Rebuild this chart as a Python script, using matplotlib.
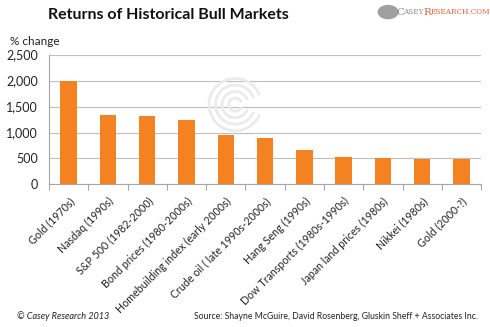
import matplotlib as mpl
mpl.use('Agg')
import matplotlib.pyplot as plt
import numpy as np
from matplotlib.patches import Arc

categories = ['Gold (1970s)', 'Nasdaq (1990s)', 'S&P 500 (1982-2000)', 'Bond prices (1980-2000s)',
              'Homebuilding index (early 2000s)', 'Crude oil ( late 1990s-2000s)', 'Hang Seng (1990s)',
              'Dow Transports (1980s-1990s)', 'Japan land prices (1980s)', 'Nikkei (1980s)', 'Gold (2000-?)']
values = [2000, 1330, 1310, 1240, 960, 885, 656, 534, 515, 485, 485]
yticks = [0, 500, 1000, 1500, 2000, 2500]
ytick_labels = ['0', '500', '1,000', '1,500', '2,000', '2,500']

plt.rcParams['font.family'] = ['Lato', 'DejaVu Sans']

fig = plt.figure(figsize=(4.9, 3.27), dpi=100)
ax = fig.add_axes([0.1, 0.436, 0.882, 0.397])

x = np.arange(len(categories))
ax.bar(x, values, width=0.42, color='#F58220', zorder=3)

ax.set_xlim(-0.5, len(categories) - 0.5)
ax.set_ylim(0, 2500)
ax.set_yticks(yticks)
ax.set_yticklabels(ytick_labels, fontsize=9, color='#222222')
ax.yaxis.grid(True, color='#BFBFBF', linewidth=0.8, zorder=0)
ax.tick_params(axis='y', length=0, pad=8)

ax.set_xticks(x)
ax.set_xticklabels(categories, rotation=45, ha='right', va='top', rotation_mode='anchor',
                   fontsize=7.7, color='#222222')
ax.tick_params(axis='x', length=0, pad=8)
ax.set_xticks(np.arange(len(categories) + 1) - 0.5, minor=True)
ax.tick_params(axis='x', which='minor', length=4, color='#A6A6A6', width=0.8)

for s in ['top', 'right']:
    ax.spines[s].set_visible(False)
ax.spines['left'].set_color('#A6A6A6')
ax.spines['bottom'].set_color('#A6A6A6')

# faint swirl watermark
for r in [0.02, 0.04, 0.06, 0.08]:
    fig.add_artist(Arc((0.48, 0.68), r * 2 * 327 / 490, r * 2, angle=0, theta1=30, theta2=330,
                       transform=fig.transFigure, color='#EBEBEB', linewidth=2.0, zorder=1))

fig.text(0.098, 0.953, 'Returns of Historical Bull Markets', fontsize=11.5, fontweight='bold',
         ha='left', va='center', color='#111111')
fig.text(0.02, 0.873, '% change', fontsize=8.5, ha='left', va='center', color='#222222')

# logo
fig.add_artist(plt.Circle((0.792, 0.963), 0.02, transform=fig.transFigure, color='#A0A0A0'))
fig.text(0.808, 0.963, 'C', fontsize=7.5, family='DejaVu Serif', color='#8A8A8A', ha='left', va='center')
fig.text(0.822, 0.963, 'ASEY', fontsize=5.2, family='DejaVu Serif', color='#8A8A8A', ha='left', va='center')
fig.text(0.864, 0.963, 'R', fontsize=7.5, family='DejaVu Serif', color='#E0603A', ha='left', va='center')
fig.text(0.878, 0.963, 'ESEARCH.COM', fontsize=5.2, family='DejaVu Serif', color='#E0603A', ha='left', va='center')

fig.text(0.035, 0.032, '\u00a9 Casey Research 2013', fontsize=6.6, style='italic', ha='left', va='center',
         color='#222222')
fig.text(0.975, 0.032, 'Source: Shayne McGuire, David Rosenberg, Gluskin Sheff + Associates Inc.',
         fontsize=6.2, ha='right', va='center', color='#222222')

fig.savefig('out.png', dpi=100)
